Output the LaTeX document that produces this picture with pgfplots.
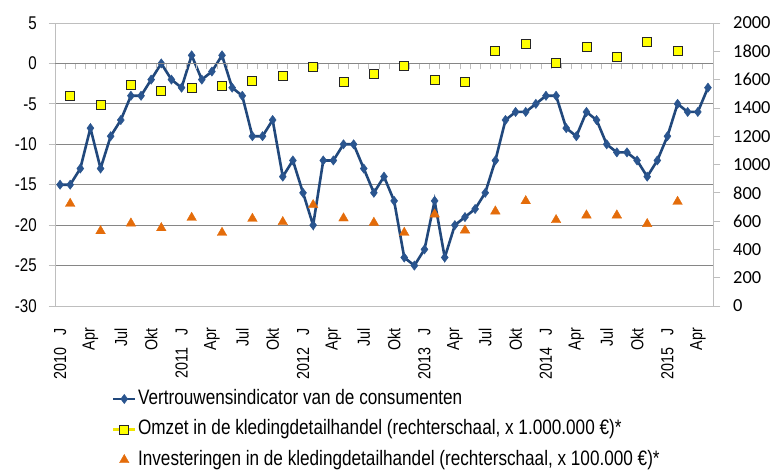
\documentclass[border=0pt]{standalone}
\usepackage{pgfplots}
\pgfplotsset{compat=1.18}
\usepackage{fontspec}
\setmainfont{Liberation Sans}
\newfontfamily\narrowfont{Liberation Sans}[FakeStretch=0.82]
\newfontfamily\calfont{Carlito}
\definecolor{lineblue}{RGB}{33,72,124}
\definecolor{markblue}{RGB}{42,85,143}
\definecolor{tri}{RGB}{228,108,10}
\definecolor{sq}{RGB}{255,255,0}
\definecolor{sqline}{RGB}{240,230,0}
\definecolor{gridc}{RGB}{134,134,134}
\definecolor{axisc}{RGB}{190,190,190}

\pgfplotstableread{
x y
0 -15
1 -15
2 -13
3 -8
4 -13
5 -9
6 -7
7 -4
8 -4
9 -2
10 0
11 -2
12 -3
13 1
14 -2
15 -1
16 1
17 -3
18 -4
19 -9
20 -9
21 -7
22 -14
23 -12
24 -16
25 -20
26 -12
27 -12
28 -10
29 -10
30 -13
31 -16
32 -14
33 -17
34 -24
35 -25
36 -23
37 -17
38 -24
39 -20
40 -19
41 -18
42 -16
43 -12
44 -7
45 -6
46 -6
47 -5
48 -4
49 -4
50 -8
51 -9
52 -6
53 -7
54 -10
55 -11
56 -11
57 -12
58 -14
59 -12
60 -9
61 -5
62 -6
63 -6
64 -3
}\confidence

\pgfplotstableread{
x y
1 1482
4 1420
7 1559
10 1522
13 1538
16 1552
19 1588
22 1623
25 1687
28 1583
31 1640
34 1696
37 1597
40 1585
43 1800
46 1851
49 1715
52 1830
55 1762
58 1868
61 1800
}\omzet

\pgfplotstableread{
x y
1 723
4 530
7 584
10 551
13 624
16 518
19 617
22 594
25 714
28 620
31 589
34 518
37 648
40 535
43 669
46 742
49 608
52 641
55 641
58 580
61 737
}\invest

\begin{document}
\begin{tikzpicture}
\path[use as bounding box, fill=white] (0,0) rectangle (772bp,-470bp);

% main (left) axis
\begin{axis}[
  at={(55bp,-306bp)}, anchor=south west,
  scale only axis, width=658bp, height=283bp,
  xmin=-0.5, xmax=64.5, ymin=-30, ymax=5,
  xtick={0,3,...,63},
  xticklabels={2010\hspace{12bp}J, Apr, Jul, Okt, 2011\hspace{12bp}J, Apr, Jul, Okt, 2012\hspace{12bp}J, Apr, Jul, Okt, 2013\hspace{12bp}J, Apr, Jul, Okt, 2014\hspace{12bp}J, Apr, Jul, Okt, 2015\hspace{12bp}J, Apr},
  xtick style={draw=none},
  xticklabel style={rotate=90, anchor=east, inner sep=0pt, font=\narrowfont\fontsize{17.5}{17.5}\selectfont},
  xticklabel shift=16bp,
  ytick={-30,-25,...,5},
  yticklabels={-30,-25,-20,-15,-10,-5,0,5},
  yticklabel style={anchor=east, inner sep=0pt, font=\narrowfont\fontsize{18.5}{18.5}\selectfont},
  yticklabel shift=12bp,
  ytick pos=left, xtick pos=bottom,
  tick align=outside, major tick length=6bp,
  ytick style={draw=axisc, line width=0.8bp},
  ymajorgrids, grid style={draw=gridc, line width=0.8bp},
  axis line style={draw=axisc, line width=0.8bp, -},
]
\addplot[lineblue, line width=2.6bp, mark=diamond*, mark size=4.6bp,
  mark options={fill=markblue, draw=markblue, line width=0.5bp}] table[x=x,y=y] {\confidence};
\end{axis}

% x axis line at y = 0 with month tick marks
\begin{axis}[
  at={(55bp,-63.43bp)}, anchor=south west,
  scale only axis, width=658bp, height=40.43bp,
  xmin=-0.5, xmax=64.5, ymin=0, ymax=1,
  hide y axis,
  axis x line*=bottom,
  xtick={-0.5,0.5,...,64.5}, xticklabels={},
  tick align=outside, major tick length=6bp,
  xtick style={draw=axisc, line width=0.8bp},
  x axis line style={draw=gridc, line width=0.8bp, -},
]
\end{axis}

% right axis
\begin{axis}[
  at={(55bp,-306bp)}, anchor=south west,
  scale only axis, width=658bp, height=283bp,
  xmin=-0.5, xmax=64.5, ymin=0, ymax=2000,
  axis y line*=right, axis x line=none,
  ytick={0,200,...,2000},
  yticklabels={0,200,400,600,800,1000,1200,1400,1600,1800,2000},
  yticklabel style={anchor=west, inner sep=0pt, font=\calfont\fontsize{18.5}{18.5}\selectfont},
  yticklabel shift=13bp,
  tick align=outside, major tick length=7bp,
  ytick style={draw=axisc, line width=0.8bp},
  y axis line style={draw=axisc, line width=0.8bp, -},
  legend cell align=left,
  legend image code/.code={\draw[mark repeat=2,mark phase=2,#1] plot coordinates {(0bp,0bp) (11bp,0bp) (22bp,0bp)};},
  legend style={draw=none, fill=none, at={(axis description cs:0.0866,-0.295)}, anchor=north west,
    inner sep=0pt, outer sep=0pt, row sep=11.5bp,
    font=\narrowfont\fontsize{21}{21}\selectfont,
    nodes={inner sep=0pt, inner xsep=1.5bp, text height=15bp, text depth=4bp}},
]
\addlegendimage{lineblue, line width=2.6bp, mark=diamond*, mark size=4.6bp, mark options={fill=markblue, draw=markblue, line width=0.5bp}}
\addlegendentry{Vertrouwensindicator van de consumenten}
\addlegendimage{draw=sqline, line width=2.2bp, mark=square*, mark size=4.5bp, mark options={fill=sq, draw=black!85, line width=0.9bp}}
\addlegendentry{Omzet in de kledingdetailhandel (rechterschaal, x 1.000.000 €)*}
\addlegendimage{only marks, mark=triangle*, mark size=5.5bp, mark options={fill=tri, draw=tri}}
\addlegendentry{Investeringen in de kledingdetailhandel (rechterschaal, x 100.000 €)*}

\addplot[only marks, mark=square*, mark size=4.5bp, mark options={fill=sq, draw=black!85, line width=0.9bp}, forget plot] table[x=x,y=y] {\omzet};
\addplot[only marks, mark=triangle*, mark size=5.5bp, mark options={fill=tri, draw=tri}, forget plot] table[x=x,y=y] {\invest};
\end{axis}
\end{tikzpicture}
\end{document}
